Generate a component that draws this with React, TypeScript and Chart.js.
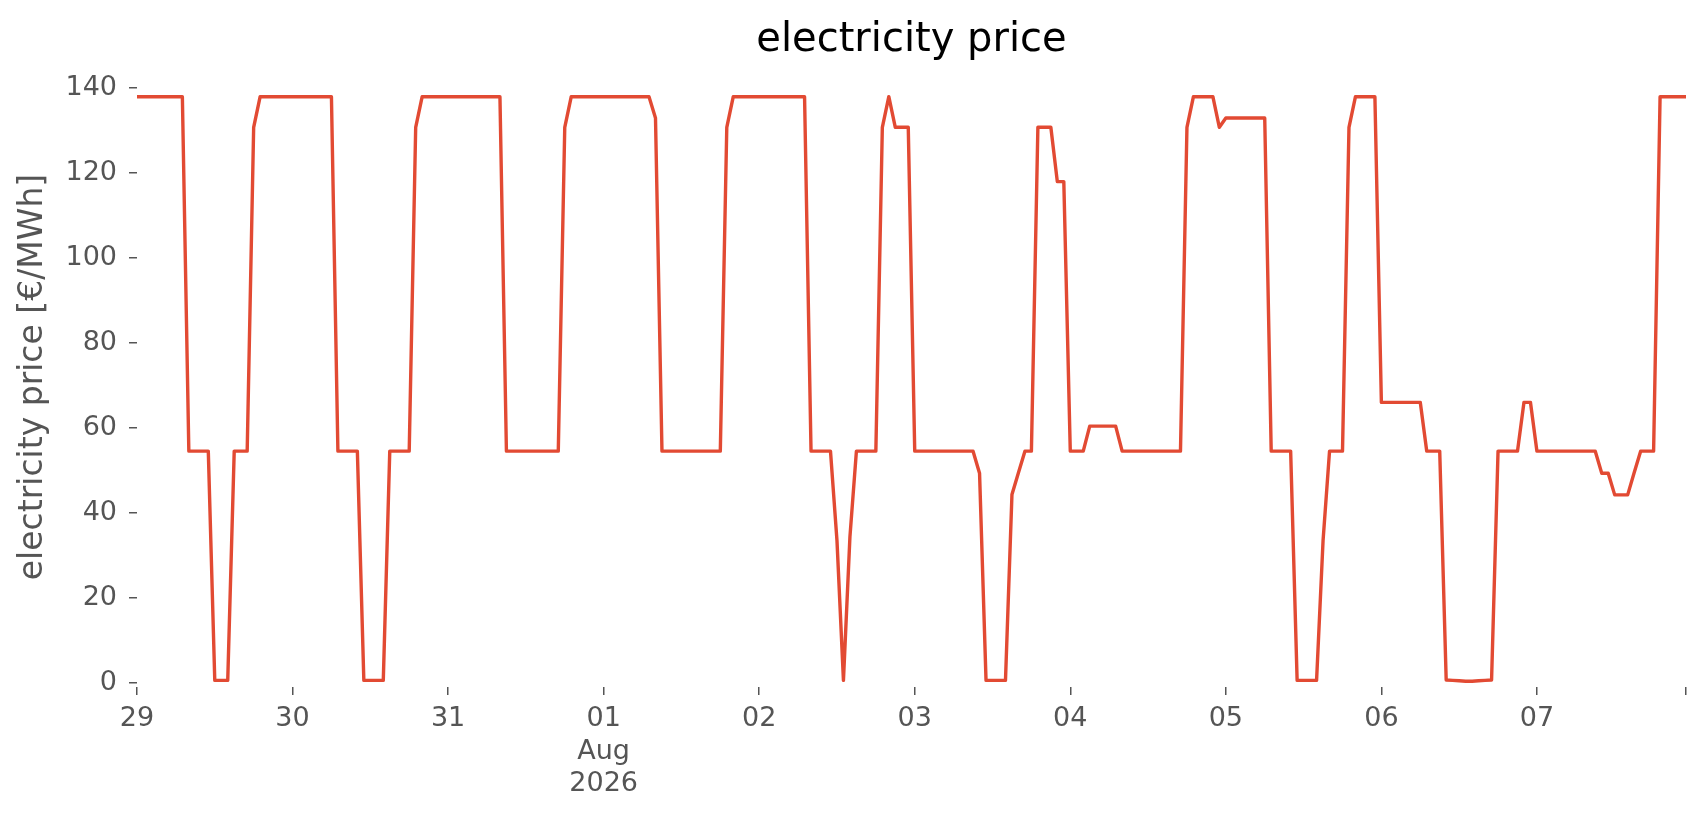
import React, { useEffect, useRef } from "react";
import { Chart, registerables } from "chart.js";

Chart.register(...registerables);

// Hourly electricity prices [€/MWh], one array per day (00:00 .. 23:00)
const jul29 = [138, 138, 138, 138, 138, 138, 138, 138, 54.5, 54.5, 54.5, 54.5, 0.5, 0.5, 0.5, 54.5, 54.5, 54.5, 130.8, 138, 138, 138, 138, 138];
const jul30 = [138, 138, 138, 138, 138, 138, 138, 54.5, 54.5, 54.5, 54.5, 0.5, 0.5, 0.5, 0.5, 54.5, 54.5, 54.5, 54.5, 130.8, 138, 138, 138, 138];
const jul31 = [138, 138, 138, 138, 138, 138, 138, 138, 138, 54.5, 54.5, 54.5, 54.5, 54.5, 54.5, 54.5, 54.5, 54.5, 130.8, 138, 138, 138, 138, 138];
const aug01 = [138, 138, 138, 138, 138, 138, 138, 138, 133, 54.5, 54.5, 54.5, 54.5, 54.5, 54.5, 54.5, 54.5, 54.5, 54.5, 130.8, 138, 138, 138, 138];
const aug02 = [138, 138, 138, 138, 138, 138, 138, 138, 54.5, 54.5, 54.5, 54.5, 33.5, 0.5, 34.3, 54.5, 54.5, 54.5, 54.5, 130.8, 138, 130.8, 130.8, 130.8];
const aug03 = [54.5, 54.5, 54.5, 54.5, 54.5, 54.5, 54.5, 54.5, 54.5, 54.5, 49.3, 0.5, 0.5, 0.5, 0.5, 44.3, 49.4, 54.5, 54.5, 130.8, 130.8, 130.8, 118, 118];
const aug04 = [54.5, 54.5, 54.5, 60.4, 60.4, 60.4, 60.4, 60.4, 54.5, 54.5, 54.5, 54.5, 54.5, 54.5, 54.5, 54.5, 54.5, 54.5, 130.8, 138, 138, 138, 138, 130.8];
const aug05 = [133, 133, 133, 133, 133, 133, 133, 54.5, 54.5, 54.5, 54.5, 0.5, 0.5, 0.5, 0.5, 33.4, 54.5, 54.5, 54.5, 130.8, 138, 138, 138, 138];
const aug06 = [66, 66, 66, 66, 66, 66, 66, 54.5, 54.5, 54.5, 0.6, 0.5, 0.4, 0.3, 0.3, 0.4, 0.5, 0.6, 54.5, 54.5, 54.5, 54.5, 66, 66];
const aug07 = [54.5, 54.5, 54.5, 54.5, 54.5, 54.5, 54.5, 54.5, 54.5, 54.5, 49.3, 49.3, 44.2, 44.2, 44.2, 49.4, 54.5, 54.5, 54.5, 138, 138, 138, 138, 138];

const days = [jul29, jul30, jul31, aug01, aug02, aug03, aug04, aug05, aug06, aug07];

// Tick labels at each midnight (hour index = day * 24)
const dayTickLabels: (string | string[])[] = ["29", "30", "31", ["01", "Aug", "2026"], "02", "03", "04", "05", "06", "07"];
const yTicks = [0, 20, 40, 60, 80, 100, 120, 140];

const TITLE = "electricity price";
const Y_LABEL = "electricity price [€/MWh]";

const FONT = "'DejaVu Sans', 'Liberation Sans', sans-serif";

export default function App() {
  const canvasRef = useRef<HTMLCanvasElement | null>(null);

  useEffect(() => {
    const canvas = canvasRef.current;
    if (!canvas) return;

    const values = days.flat();
    const points = values.map((v, i) => ({ x: i, y: v }));
    const lastHour = values.length - 1;

    const chart = new Chart(canvas, {
      type: "line",
      data: {
        datasets: [
          {
            data: points,
            borderColor: "#E24A33",
            backgroundColor: "#E24A33",
            borderWidth: 3.4,
            pointRadius: 0,
            tension: 0,
            borderJoinStyle: "round",
            borderCapStyle: "butt",
            fill: false,
          },
        ],
      },
      options: {
        animation: false,
        responsive: false,
        maintainAspectRatio: false,
        layout: { padding: { left: 0, right: 20, top: 0, bottom: 0 } },
        plugins: {
          legend: { display: false },
          tooltip: { enabled: false },
          title: {
            display: true,
            fullSize: false,
            text: TITLE,
            color: "#000000",
            font: { family: FONT, size: 40, weight: "normal", lineHeight: 1.2 },
            padding: { top: 17, bottom: 2 },
            align: "center",
          },
        },
        scales: {
          x: {
            type: "linear",
            min: 0,
            max: lastHour,
            border: { display: false },
            grid: {
              display: true,
              drawOnChartArea: false,
              drawTicks: true,
              tickLength: 8,
              color: "#555555",
              lineWidth: 1.5,
            },
            ticks: {
              autoSkip: false,
              maxRotation: 0,
              minRotation: 0,
              padding: 8,
              color: "#555555",
              font: { family: FONT, size: 27, lineHeight: 1.2 },
              callback: (value: any) => {
                const v = Number(value);
                if (v % 24 === 0) {
                  const idx = v / 24;
                  return dayTickLabels[idx] ?? "";
                }
                return "";
              },
            },
            afterBuildTicks: (scale: any) => {
              const t = dayTickLabels.map((_, i) => ({ value: i * 24 }));
              t.push({ value: lastHour });
              scale.ticks = t;
            },
            afterFit: (scale: any) => {
              scale.height = 128;
            },
          },
          y: {
            type: "linear",
            min: -1.06,
            max: 145.0,
            border: { display: false },
            grid: {
              display: true,
              drawOnChartArea: false,
              drawTicks: true,
              tickLength: 8,
              color: "#555555",
              lineWidth: 1.5,
            },
            ticks: {
              padding: 12,
              color: "#555555",
              font: { family: FONT, size: 27, lineHeight: 1.2 },
              callback: (value: any) => String(value),
            },
            afterBuildTicks: (scale: any) => {
              scale.ticks = yTicks.map((v) => ({ value: v }));
            },
            afterFit: (scale: any) => {
              scale.width = 137;
            },
            title: {
              display: true,
              text: Y_LABEL,
              color: "#555555",
              font: { family: FONT, size: 33, lineHeight: 1.2 },
              padding: { top: 14, bottom: 0 },
            },
          },
        },
      },
    });

    return () => {
      chart.destroy();
    };
  }, []);

  return (
    <div
      style={{
        position: "fixed",
        left: 0,
        top: 0,
        width: 1706,
        height: 815,
        background: "#ffffff",
        overflow: "hidden",
      }}
    >
      <canvas ref={canvasRef} width={1706} height={815} style={{ width: 1706, height: 815, display: "block" }} />
    </div>
  );
}
